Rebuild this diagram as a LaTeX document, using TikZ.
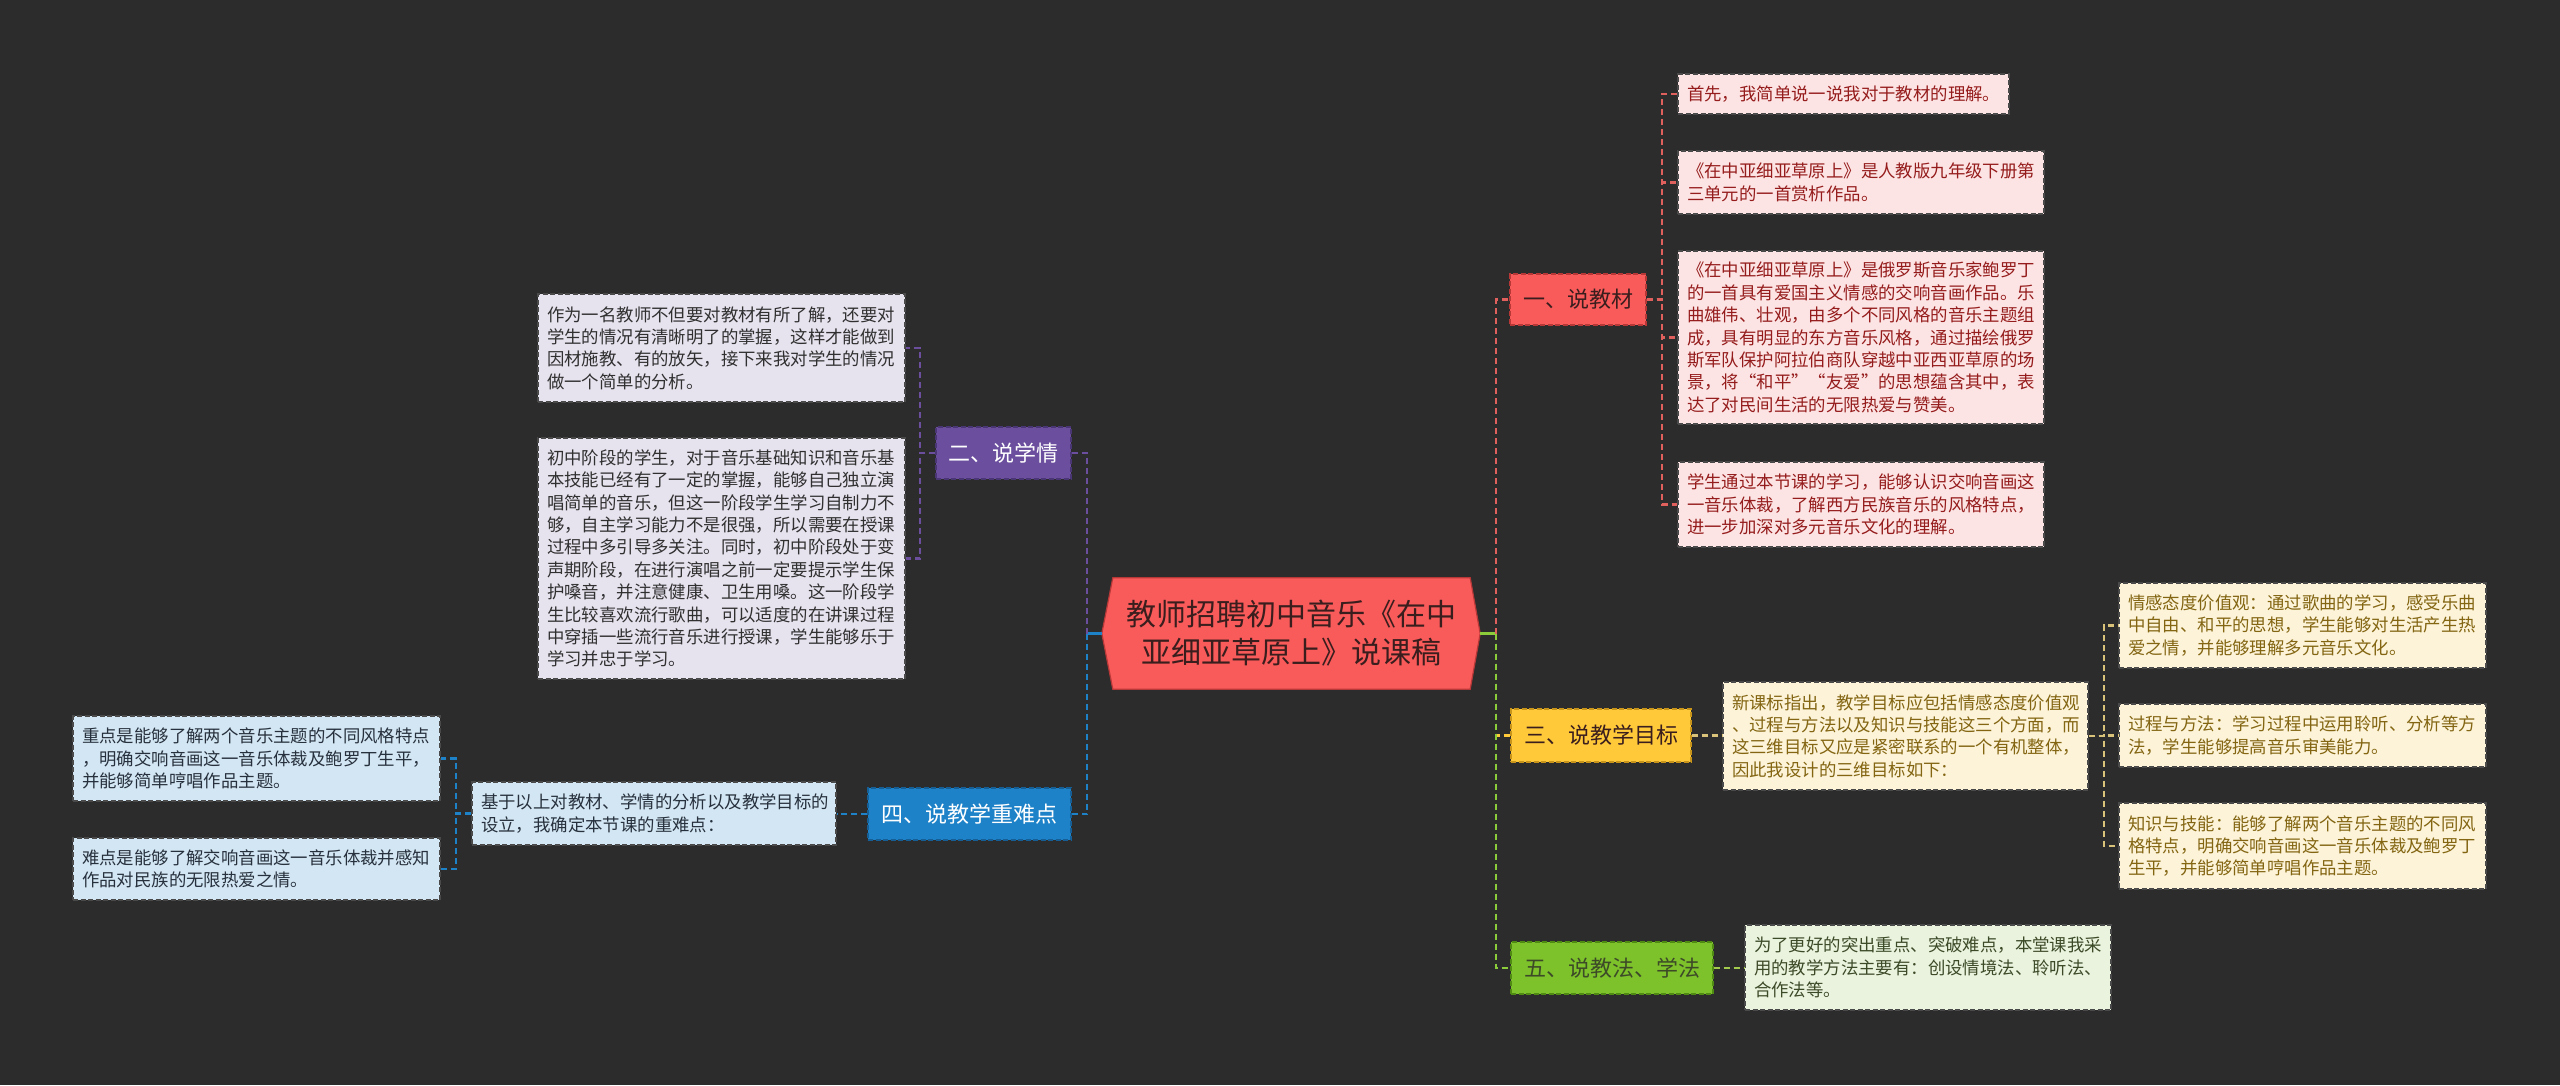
\documentclass[tikz,border=0pt]{standalone}
\usepackage{fontspec}
\setmainfont{Noto Sans CJK SC}
\usetikzlibrary{backgrounds}
\definecolor{bgc}{HTML}{2C2C2C}
\definecolor{cfill}{HTML}{F95A5A}
\definecolor{cdraw}{HTML}{B83838}
\definecolor{ctext}{HTML}{3A1E1E}
\definecolor{redc}{HTML}{E0605E}
\definecolor{purc}{HTML}{6B4F9E}
\definecolor{purd}{HTML}{4A3575}
\definecolor{bluc}{HTML}{1E82C8}
\definecolor{blud}{HTML}{155F96}
\definecolor{yelc}{HTML}{FFC93A}
\definecolor{yeld}{HTML}{C8951A}
\definecolor{grnc}{HTML}{7DC22B}
\definecolor{grnd}{HTML}{4F8A12}
\definecolor{khaki}{HTML}{D9C27A}
\definecolor{grnline}{HTML}{8CCC3A}
\definecolor{pinkf}{HTML}{FDE4E4}
\definecolor{pinkt}{HTML}{951C1C}
\definecolor{lavf}{HTML}{E6E2EE}
\definecolor{lavt}{HTML}{303030}
\definecolor{bluf}{HTML}{D3E6F3}
\definecolor{blut}{HTML}{27313D}
\definecolor{yelf}{HTML}{FCF3D8}
\definecolor{yelt}{HTML}{836512}
\definecolor{grnf}{HTML}{E9F3DE}
\definecolor{grnt}{HTML}{3D4A28}
\definecolor{leafd}{HTML}{4A4A4A}
\newcommand\leaffont{\fontsize{17.4}{22.4}\selectfont}
\newcommand\branchfont{\fontsize{22}{26}\selectfont}
\newcommand\centerfont{\fontsize{30}{38}\selectfont}
\begin{document}
\begin{tikzpicture}[x=1pt,y=-1pt,
  leafbox/.style={draw=leafd, line width=1.1pt, dash pattern=on 5pt off 2.5pt,
    inner xsep=9pt, inner ysep=0pt, align=left, font=\leaffont},
  pinkleaf/.style={leafbox, fill=pinkf, text=pinkt},
  lavleaf/.style={leafbox, fill=lavf, text=lavt},
  bluleaf/.style={leafbox, fill=bluf, text=blut},
  yelleaf/.style={leafbox, fill=yelf, text=yelt},
  grnleaf/.style={leafbox, fill=grnf, text=grnt},
  branchbox/.style={line width=1.2pt, dash pattern=on 5pt off 2.5pt,
    inner sep=0pt, align=center, font=\branchfont},
  conn/.style={line width=2.2pt, dash pattern=on 6pt off 4pt},
  solidconn/.style={line width=2.4pt}
]
\begin{pgfonlayer}{background}
\fill[bgc] (0,0) rectangle (2560,1085);
\end{pgfonlayer}
\useasboundingbox (0,0) rectangle (2560,1085);

% central
\node[minimum width=378pt, minimum height=111pt, inner sep=0pt, align=center,
  font=\centerfont, text=ctext] (c) at (1291,633.5)
  {教师招聘初中音乐《在中\\亚细亚草原上》说课稿};
\begin{pgfonlayer}{background}
\filldraw[fill=cfill, draw=cdraw, line width=1.2pt]
  (c.west) -- ([xshift=11pt]c.north west) -- ([xshift=-10pt]c.north east)
  -- (c.east) -- ([xshift=-10pt]c.south east) -- ([xshift=11pt]c.south west) -- cycle;
\end{pgfonlayer}

% branches
\node[branchbox, fill=cfill, draw=cdraw, text=ctext, minimum width=136pt, minimum height=51pt] (b1) at (1578,299.5) {一、说教材};
\node[branchbox, fill=purc, draw=purd, text=white, minimum width=135pt, minimum height=52pt] (b2) at (1003.5,453) {二、说学情};
\node[branchbox, fill=yelc, draw=yeld, text=ctext, minimum width=180pt, minimum height=53pt] (b3) at (1601,735.5) {三、说教学目标};
\node[branchbox, fill=bluc, draw=blud, text=white, minimum width=203pt, minimum height=52pt] (b4) at (969.5,814) {四、说教学重难点};
\node[branchbox, fill=grnc, draw=grnd, text=grnt, minimum width=202pt, minimum height=52pt] (b5) at (1612,968) {五、说教法、学法};

% pink leaves
\node[pinkleaf, text width=313pt, minimum height=40pt] (p1) at (1843.5,94) {首先，我简单说一说我对于教材的理解。};
\node[pinkleaf, text width=348pt, minimum height=63pt] (p2) at (1861,182.5) {《在中亚细亚草原上》是人教版九年级下册第\\三单元的一首赏析作品。};
\node[pinkleaf, text width=348pt, minimum height=173pt] (p3) at (1861,337.5) {《在中亚细亚草原上》是俄罗斯音乐家鲍罗丁\\的一首具有爱国主义情感的交响音画作品。乐\\曲雄伟、壮观，由多个不同风格的音乐主题组\\成，具有明显的东方音乐风格，通过描绘俄罗\\斯军队保护阿拉伯商队穿越中亚西亚草原的场\\景，将“和平”“友爱”的思想蕴含其中，表\\达了对民间生活的无限热爱与赞美。};
\node[pinkleaf, text width=348pt, minimum height=85pt] (p4) at (1861,504.5) {学生通过本节课的学习，能够认识交响音画这\\一音乐体裁，了解西方民族音乐的风格特点，\\进一步加深对多元音乐文化的理解。};

% lavender leaves
\node[lavleaf, text width=349pt, minimum height=108pt] (l1) at (721.5,348) {作为一名教师不但要对教材有所了解，还要对\\学生的情况有清晰明了的掌握，这样才能做到\\因材施教、有的放矢，接下来我对学生的情况\\做一个简单的分析。};
\node[lavleaf, text width=349pt, minimum height=241pt] (l2) at (721.5,558.5) {初中阶段的学生，对于音乐基础知识和音乐基\\本技能已经有了一定的掌握，能够自己独立演\\唱简单的音乐，但这一阶段学生学习自制力不\\够，自主学习能力不是很强，所以需要在授课\\过程中多引导多关注。同时，初中阶段处于变\\声期阶段，在进行演唱之前一定要提示学生保\\护嗓音，并注意健康、卫生用嗓。这一阶段学\\生比较喜欢流行歌曲，可以适度的在讲课过程\\中穿插一些流行音乐进行授课，学生能够乐于\\学习并忠于学习。};

% blue leaves
\node[bluleaf, text width=346pt, minimum height=63pt] (k) at (654,813.5) {基于以上对教材、学情的分析以及教学目标的\\设立，我确定本节课的重难点：};
\node[bluleaf, text width=349pt, minimum height=85pt] (z1) at (256.5,758.5) {重点是能够了解两个音乐主题的不同风格特点\\，明确交响音画这一音乐体裁及鲍罗丁生平，\\并能够简单哼唱作品主题。};
\node[bluleaf, text width=349pt, minimum height=62pt] (z2) at (256.5,869) {难点是能够了解交响音画这一音乐体裁并感知\\作品对民族的无限热爱之情。};

% yellow leaves
\node[yelleaf, text width=347pt, minimum height=108pt] (y0) at (1905.5,736) {新课标指出，教学目标应包括情感态度价值观\\、过程与方法以及知识与技能这三个方面，而\\这三维目标又应是紧密联系的一个有机整体，\\因此我设计的三维目标如下：};
\node[yelleaf, text width=349pt, minimum height=85pt] (y1) at (2302.5,625.5) {情感态度价值观：通过歌曲的学习，感受乐曲\\中自由、和平的思想，学生能够对生活产生热\\爱之情，并能够理解多元音乐文化。};
\node[yelleaf, text width=349pt, minimum height=63pt] (y2) at (2302.5,735.5) {过程与方法：学习过程中运用聆听、分析等方\\法，学生能够提高音乐审美能力。};
\node[yelleaf, text width=349pt, minimum height=86pt] (y3) at (2302.5,846) {知识与技能：能够了解两个音乐主题的不同风\\格特点，明确交响音画这一音乐体裁及鲍罗丁\\生平，并能够简单哼唱作品主题。};

% green leaf
\node[grnleaf, text width=348pt, minimum height=85pt] (g1) at (1928,967.5) {为了更好的突出重点、突破难点，本堂课我采\\用的教学方法主要有：创设情境法、聆听法、\\合作法等。};

% bus coordinates
\coordinate (tr) at (1496,0);
\coordinate (tl) at (1087,0);
\coordinate (rb1) at (1662,0);
\coordinate (lb2) at (920,0);
\coordinate (lbk) at (456,0);
\coordinate (ry0) at (2104,0);

% connectors from the centre
\draw[solidconn, grnline] (c.east) -- (c.east -| tr);
\draw[solidconn, bluc] (c.west) -- (c.west -| tl);
\draw[conn, redc] (c.east -| tr) |- (b1.west);
\draw[conn, yelc] (c.east -| tr) |- (b3.west);
\draw[conn, grnline] (c.east -| tr) |- (b5.west);
\draw[conn, purc] (c.west -| tl) |- (b2.east);
\draw[conn, bluc] (c.west -| tl) |- (b4.east);

% branch 1
\foreach \n in {p1,p2,p3,p4}
  \draw[conn, redc] (b1.east) -- (b1.east -| rb1) |- (\n.west);
% branch 2
\foreach \n in {l1,l2}
  \draw[conn, purc] (b2.west) -- (b2.west -| lb2) |- (\n.east);
% branch 4
\draw[conn, bluc] (b4.west) -- (b4.west -| k.east);
\foreach \n in {z1,z2}
  \draw[conn, bluc] (k.west) -- (k.west -| lbk) |- (\n.east);
% branch 3
\draw[conn, khaki] (b3.east) -- (b3.east -| y0.west);
\foreach \n in {y1,y2,y3}
  \draw[conn, khaki] (y0.east) -- (y0.east -| ry0) |- (\n.west);
% branch 5
\draw[conn, grnline!70!khaki] (b5.east) -- (b5.east -| g1.west);
\end{tikzpicture}
\end{document}
